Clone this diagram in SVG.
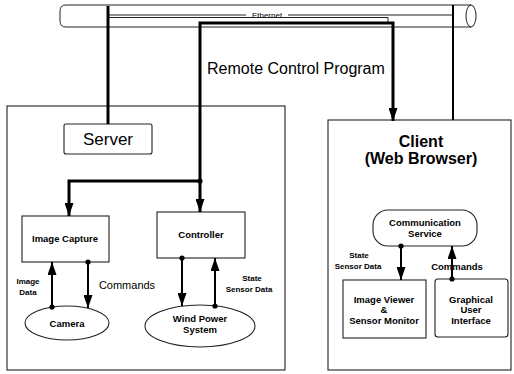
<svg xmlns="http://www.w3.org/2000/svg" width="514" height="374" viewBox="0 0 514 374">
<defs>
<marker id="ah" viewBox="0 0 13 9" refX="13" refY="4.5" markerWidth="13" markerHeight="9" markerUnits="userSpaceOnUse" orient="auto"><path d="M0,0 L13,4.5 L0,9 z" fill="#000"/></marker>
<marker id="dot" viewBox="0 0 6 6" refX="3" refY="3" markerWidth="6" markerHeight="6" markerUnits="userSpaceOnUse"><circle cx="3" cy="3" r="2.6" fill="#000"/></marker>
</defs>
<style>
.box{fill:#fff;stroke:#222;stroke-width:1.1}
.thick{fill:none;stroke:#000;stroke-width:3}
.conn{fill:none;stroke:#000;stroke-width:2}
.thin{fill:none;stroke:#222;stroke-width:1}
.t{font-family:"Liberation Sans",Arial,sans-serif;fill:#000}
.s{font-size:9.5px;font-weight:bold;text-anchor:middle}
.xs{font-size:8px;font-weight:bold;text-anchor:middle}
</style>
<rect width="514" height="374" fill="#fff"/>
<g id="ethernet">
<path class="thin" d="M66,5 H471 M66,27 H471 M66,5 Q60,5 60,11 V21 Q60,27 66,27" stroke-width="1.3"/>
<ellipse class="thin" cx="471" cy="16" rx="5" ry="11" stroke-width="1.3"/>
</g>
<g id="server-container"><rect class="box" x="7" y="106" width="278" height="264"/></g>
<g id="client-container"><rect class="box" x="328" y="120" width="183" height="250"/>
<text class="t" x="421" y="147" font-size="16" font-weight="bold" text-anchor="middle">Client</text>
<text class="t" x="421" y="164" font-size="16" font-weight="bold" text-anchor="middle">(Web Browser)</text></g>
<g id="server"><rect class="box" x="64" y="124" width="88" height="30" rx="2"/>
<text class="t" x="108" y="145" font-size="17" text-anchor="middle">Server</text></g>
<g id="image-capture"><rect class="box" x="22" y="216" width="87" height="46"/>
<text class="t s" x="65" y="242">Image Capture</text></g>
<g id="controller"><rect class="box" x="157" y="212" width="88" height="46"/>
<text class="t s" x="201" y="238">Controller</text></g>
<g id="camera"><ellipse class="box" cx="67" cy="323" rx="42" ry="17"/>
<text class="t s" x="67" y="327">Camera</text></g>
<g id="wind-power"><ellipse class="box" cx="200" cy="326" rx="55" ry="21"/>
<text class="t s" x="200" y="322">Wind Power</text><text class="t s" x="200" y="333">System</text></g>
<g id="communication-service"><rect class="box" x="373" y="210" width="104" height="36" rx="15"/>
<text class="t s" x="425" y="226">Communication</text><text class="t s" x="425" y="237">Service</text></g>
<g id="image-viewer"><rect class="box" x="343" y="280" width="83" height="58"/>
<text class="t s" x="384" y="303">Image Viewer</text><text class="t s" x="384" y="313">&amp;</text><text class="t s" x="384" y="324">Sensor Monitor</text></g>
<g id="gui"><rect class="box" x="435" y="279" width="73" height="58" rx="3"/>
<text class="t s" x="471" y="303">Graphical</text><text class="t s" x="471" y="313">User</text><text class="t s" x="471" y="324">Interface</text></g>
<g id="connectors">
<path class="thin" d="M108,15 H453"/>
<rect x="246" y="10" width="42" height="9" fill="#fff"/>
<text class="t" x="267" y="18" font-size="8" text-anchor="middle">Ethernet</text>
<path class="thin" d="M108,17.5 H388 V23"/>
<path class="thick" d="M108,6 V124"/>
<path class="thick" d="M200,181 V23 H393 V121" marker-end="url(#ah)"/>
<path class="conn" d="M453,5 V120" stroke-width="2.5"/>
<text class="t" x="207" y="74" font-size="16">Remote Control Program</text>
<path class="thick" d="M200,181 H69 V216" marker-end="url(#ah)"/>
<path class="thick" d="M200,181 V212" marker-start="url(#dot)" marker-end="url(#ah)"/>
<path class="conn" d="M52,307 V262" marker-start="url(#dot)" marker-end="url(#ah)"/>
<path class="conn" d="M88,262 V308" marker-start="url(#dot)" marker-end="url(#ah)"/>
<path class="conn" d="M182,258 V306" marker-start="url(#dot)" marker-end="url(#ah)"/>
<path class="conn" d="M215,306 V258" marker-start="url(#dot)" marker-end="url(#ah)"/>
<path class="conn" d="M401,246 V280" marker-start="url(#dot)" marker-end="url(#ah)"/>
<path class="conn" d="M452,279 V246" marker-start="url(#dot)" marker-end="url(#ah)"/>
<text class="t xs" x="28" y="284">Image</text><text class="t xs" x="28" y="295">Data</text>
<text class="t" x="127" y="289" font-size="11" text-anchor="middle">Commands</text>
<text class="t xs" x="252" y="281">State</text><text class="t xs" x="249" y="292">Sensor Data</text>
<text class="t xs" x="359" y="258">State</text><text class="t xs" x="358" y="269">Sensor Data</text>
<text class="t s" x="457" y="270" text-anchor="start">Commands</text>
</g>
</svg>
